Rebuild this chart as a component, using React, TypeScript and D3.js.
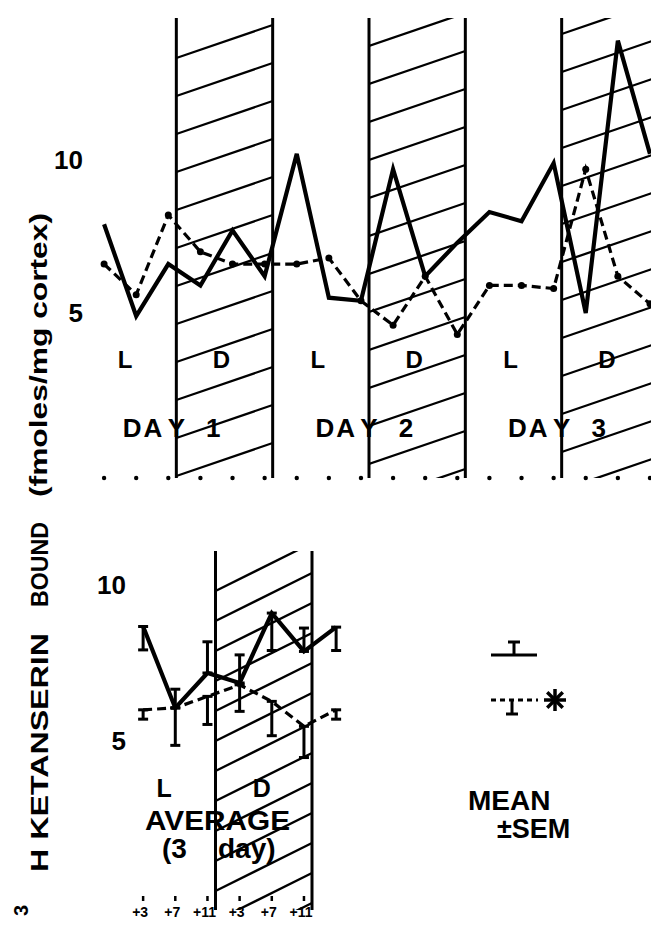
import React from 'react';
import * as d3 from 'd3';

// ---------- data ----------
const hoursTop = [3, 7, 11, 15, 19, 23, 27, 31, 35, 39, 43, 47, 51, 55, 59, 63, 67, 71];
const solidTop = [7.9, 4.9, 6.6, 5.9, 7.7, 6.2, 10.2, 5.5, 5.4, 9.7, 6.2, 7.3, 8.3, 8.0, 9.9, 5.0, 13.9, 10.2];
const dashedTop = [6.6, 5.6, 8.2, 7.0, 6.6, 6.6, 6.6, 6.8, 5.4, 4.6, 6.2, 4.3, 5.9, 5.9, 5.8, 9.7, 6.2, 5.3];
const darkPeriodsTop: [number, number][] = [[12, 24], [36, 48], [60, 72]];
const boundariesTop = [12, 24, 36, 48, 60];
const periodLabelsTop = ['L', 'D', 'L', 'D', 'L', 'D'];
const dayLabels = ['1', '2', '3'];
const dayBoundaries = [12, 36, 60];
const yTicks = [5, 10];

const hoursAvg = [3, 7, 11, 15, 19, 23, 27];
const solidAvg = [8.67, 6.06, 7.18, 6.86, 9.1, 7.87, 8.65];
const solidAvgSem = [0.75, 0.6, 1.0, 0.9, 1.2, 0.75, 0.75];
const solidAvgDir = [-1, 1, 1, 1, -1, 1, -1];
const dashedAvg = [6.0, 6.06, 6.43, 6.8, 6.27, 5.47, 6.0];
const dashedAvgSem = [0.3, 1.2, 0.9, 0.85, 1.1, 1.0, 0.3];
const dashedAvgDir = [-1, -1, -1, -1, -1, -1, -1];
const avgTickHours = [3, 7, 11, 15, 19, 23];
const avgTickLabels = ['+3', '+7', '+11', '+3', '+7', '+11'];
const darkPeriodAvg: [number, number] = [12, 24];
const boundariesAvg = [12, 24];

const FONT = 'Liberation Sans, Arial, Helvetica, sans-serif';

function hatchLines(x0: number, x1: number, top: number, bottom: number, start: number, step: number, rise: number) {
  const ys = d3.range(start, bottom + rise + step, step);
  return ys.map((y) => ({ x1: x0, y1: y, x2: x1, y2: y - rise }));
}

export default function App() {
  const W = 651;
  const H = 927;
  const xT = d3.scaleLinear().domain([0, 72]).range([80, 658]);
  const yT = d3.scaleLinear().domain([5, 10]).range([313, 160]);
  const xA = d3.scaleLinear().domain([0, 24]).range([119, 312]);
  const yA = d3.scaleLinear().domain([5, 10]).range([741, 585]);

  const topTop = 18;
  const topBottom = 478;
  const avgTop = 551;
  const avgBottom = 910;

  const lineT = d3
    .line<number>()
    .x((_, i) => xT(hoursTop[i]))
    .y((d) => yT(d));
  const lineA = d3
    .line<number>()
    .x((_, i) => xA(hoursAvg[i]))
    .y((d) => yA(d));

  const textStyle = { fontFamily: FONT, fontWeight: 'bold' as const, fill: '#000' };

  const errBar = (x: number, v: number, sem: number, dir: number, key: string) => {
    const y0 = yA(v);
    const y1 = yA(v + dir * sem);
    return (
      <g key={key} stroke="#000" strokeWidth={3}>
        <line x1={x} x2={x} y1={y0} y2={y1} />
        <line x1={x - 5} x2={x + 5} y1={y1} y2={y1} />
        <line x1={x - 5} x2={x + 5} y1={y0} y2={y0} />
      </g>
    );
  };

  return (
    <svg
      width={W}
      height={H}
      viewBox={`0 0 ${W} ${H}`}
      style={{ position: 'absolute', left: 0, top: 0, background: '#fff' }}
    >
      <rect x={0} y={0} width={W} height={H} fill="#fff" />
      <defs>
        {darkPeriodsTop.map(([a, b], i) => (
          <clipPath id={`clipTop${i}`} key={i}>
            <rect x={xT(a)} y={topTop} width={xT(b) - xT(a)} height={topBottom - topTop} />
          </clipPath>
        ))}
        <clipPath id="clipAvg">
          <rect x={xA(darkPeriodAvg[0])} y={avgTop} width={xA(darkPeriodAvg[1]) - xA(darkPeriodAvg[0])} height={avgBottom - avgTop} />
        </clipPath>
      </defs>

      {/* ---------- TOP PANEL ---------- */}
      {darkPeriodsTop.map(([a, b], i) => (
        <g key={`h${i}`} clipPath={`url(#clipTop${i})`} stroke="#000" strokeWidth={2.3}>
          {hatchLines(xT(a), xT(b), topTop, topBottom, topTop + 40 - i * 12, 38, 33).map((l, j) => (
            <line key={j} {...l} />
          ))}
        </g>
      ))}
      {boundariesTop.map((h) => (
        <line key={`b${h}`} x1={xT(h)} x2={xT(h)} y1={topTop} y2={topBottom} stroke="#000" strokeWidth={3} />
      ))}
      {hoursTop.map((h) => (
        <circle key={`td${h}`} cx={xT(h)} cy={topBottom} r={2.2} fill="#000" />
      ))}

      <path d={lineT(dashedTop) || ''} fill="none" stroke="#000" strokeWidth={3.2} strokeDasharray="9,5" />
      {dashedTop.map((v, i) => (
        <circle key={`dd${i}`} cx={xT(hoursTop[i])} cy={yT(v)} r={3.5} fill="#000" />
      ))}
      <path d={lineT(solidTop) || ''} fill="none" stroke="#000" strokeWidth={4.2} />

      {yTicks.map((t) => (
        <text key={`yt${t}`} x={83} y={yT(t) + 9} textAnchor="end" fontSize={26} {...textStyle}>
          {t}
        </text>
      ))}

      {periodLabelsTop.map((lab, i) => (
        <text key={`pl${i}`} x={xT(i * 12 + 6) - 3} y={368} textAnchor="middle" fontSize={24} {...textStyle}>
          {lab}
        </text>
      ))}
      {dayBoundaries.map((h, i) => (
        <g key={`day${i}`}>
          <text x={xT(h) - 12} y={437} textAnchor="end" fontSize={26} letterSpacing={2} {...textStyle}>
            DA
          </text>
          <text x={xT(h)} y={437} textAnchor="middle" fontSize={26} {...textStyle}>
            Y
          </text>
          <text x={xT(h) + 37} y={437} textAnchor="middle" fontSize={26} {...textStyle}>
            {dayLabels[i]}
          </text>
        </g>
      ))}

      {/* ---------- AVERAGE PANEL ---------- */}
      <g clipPath="url(#clipAvg)" stroke="#000" strokeWidth={2.3}>
        {hatchLines(xA(darkPeriodAvg[0]), xA(darkPeriodAvg[1]), avgTop, avgBottom, avgTop + 40, 30, 48).map((l, j) => (
          <line key={j} {...l} />
        ))}
      </g>
      {boundariesAvg.map((h) => (
        <line key={`ba${h}`} x1={xA(h)} x2={xA(h)} y1={avgTop} y2={avgBottom} stroke="#000" strokeWidth={3} />
      ))}

      {yTicks.map((t) => (
        <text key={`ya${t}`} x={126} y={yA(t) + 9} textAnchor="end" fontSize={26} {...textStyle}>
          {t}
        </text>
      ))}

      <path d={lineA(dashedAvg) || ''} fill="none" stroke="#000" strokeWidth={3.2} strokeDasharray="9,5" />
      <path d={lineA(solidAvg) || ''} fill="none" stroke="#000" strokeWidth={4.2} />
      {solidAvg.map((v, i) => errBar(xA(hoursAvg[i]), v, solidAvgSem[i], solidAvgDir[i], `se${i}`))}
      {dashedAvg.map((v, i) => errBar(xA(hoursAvg[i]), v, dashedAvgSem[i], dashedAvgDir[i], `de${i}`))}

      <text x={xA(6) - 3} y={797} textAnchor="middle" fontSize={25} {...textStyle}>L</text>
      <text x={xA(18) - 2} y={797} textAnchor="middle" fontSize={25} {...textStyle}>D</text>
      <text x={145} y={830} fontSize={28} textLength={145} lengthAdjust="spacingAndGlyphs" {...textStyle}>AVERAGE</text>
      <text y={858} fontSize={28} {...textStyle}>
        <tspan x={162}>(3</tspan>
        <tspan x={218}>day)</tspan>
      </text>

      {avgTickHours.map((h, i) => (
        <g key={`at${i}`}>
          <line x1={xA(h)} x2={xA(h)} y1={896} y2={901} stroke="#000" strokeWidth={2.5} />
          <text x={xA(h) - 3} y={917} textAnchor="middle" fontSize={14} {...textStyle}>
            {avgTickLabels[i]}
          </text>
        </g>
      ))}

      {/* ---------- LEGEND ---------- */}
      <g stroke="#000">
        <line x1={491} x2={537} y1={655} y2={655} strokeWidth={3} />
        <line x1={514} x2={514} y1={655} y2={642} strokeWidth={3} />
        <line x1={508} x2={520} y1={642} y2={642} strokeWidth={3} />
        <line x1={491} x2={538} y1={700} y2={700} strokeWidth={3} strokeDasharray="5,4" />
        <line x1={512} x2={512} y1={700} y2={714} strokeWidth={3} />
        <line x1={506} x2={518} y1={714} y2={714} strokeWidth={3} />
        {d3.range(4).map((k) => {
          const a = (k * Math.PI) / 4;
          const r = 11;
          return (
            <line
              key={k}
              x1={555 - r * Math.cos(a)}
              y1={700 - r * Math.sin(a)}
              x2={555 + r * Math.cos(a)}
              y2={700 + r * Math.sin(a)}
              strokeWidth={3.5}
            />
          );
        })}
      </g>
      <text x={468} y={810} fontSize={28} {...textStyle}>MEAN</text>
      <text x={497} y={838} fontSize={27} {...textStyle}>±SEM</text>

      {/* ---------- Y AXIS TITLE ---------- */}
      <g transform="translate(48, 0) rotate(-90)">
        <text x={-916} y={-20} fontSize={20} {...textStyle}>3</text>
        <text x={-872} y={0} fontSize={23} {...textStyle} textLength={239} lengthAdjust="spacingAndGlyphs">
          H KETANSERIN
        </text>
        <text x={-607} y={0} fontSize={23} {...textStyle} textLength={85} lengthAdjust="spacingAndGlyphs">
          BOUND
        </text>
        <text x={-497} y={-1} fontSize={23} {...textStyle} textLength={284} lengthAdjust="spacingAndGlyphs">
          (fmoles/mg cortex)
        </text>
      </g>
    </svg>
  );
}
